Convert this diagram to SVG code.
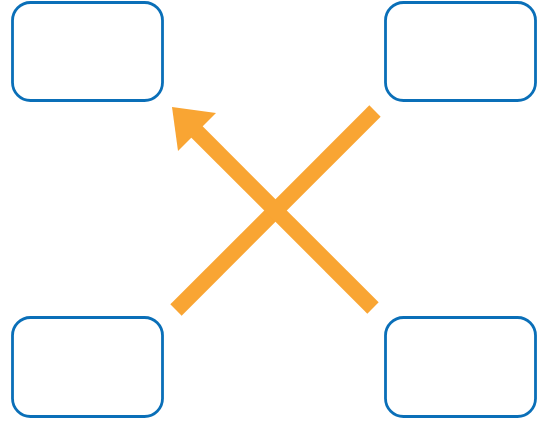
<svg xmlns="http://www.w3.org/2000/svg" width="539" height="423" viewBox="0 0 539 423">
<style>
.box{fill:#fff;stroke:#0a6fb8;stroke-width:2.8}
.ln{stroke:#f9a533;stroke-width:16;stroke-linecap:butt;fill:none}
.hd{fill:#f9a533}
</style>
<rect width="539" height="423" fill="#fff"/>
<g id="node-top-left"><rect class="box" x="12.5" y="2.5" width="150" height="98" rx="18"/></g>
<g id="node-top-right"><rect class="box" x="385.5" y="2.5" width="150" height="98" rx="18"/></g>
<g id="node-bottom-left"><rect class="box" x="12.5" y="317.5" width="150" height="99" rx="18"/></g>
<g id="node-bottom-right"><rect class="box" x="385.5" y="317.5" width="150" height="99" rx="18"/></g>
<g id="connectors">
<line class="ln" x1="176" y1="310" x2="375" y2="111"/>
<line class="ln" x1="373" y1="308" x2="196" y2="131"/>
<polygon class="hd" points="172,107 216,113 178,151"/>
</g>
</svg>
